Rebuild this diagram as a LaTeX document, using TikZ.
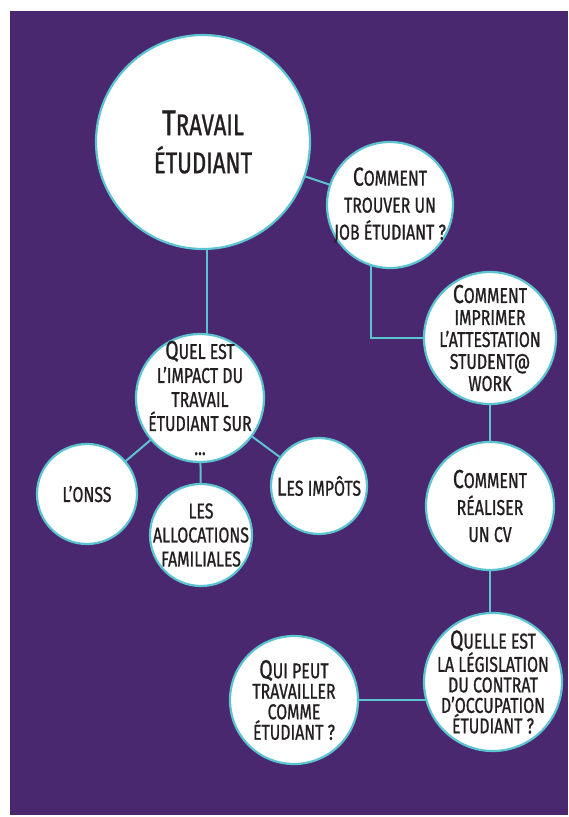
\documentclass[tikz,border=0pt]{standalone}
\usepackage{fontspec}
\setmainfont{Fira Sans}[FakeStretch=0.74,FakeBold=0.9]
\usetikzlibrary{backgrounds}
\definecolor{plum}{HTML}{4A2870}
\definecolor{aqua}{HTML}{5CC4D0}
\definecolor{ink}{HTML}{231F20}
% enlarged first letter for the small-caps look
\newcommand\Ini[1]{{\fontsize{26}{20}\selectfont #1}}
\newcommand\BigIni[1]{{\fontsize{36}{36}\selectfont #1}}
\begin{document}
\begin{tikzpicture}[x=1pt,y=-1pt,
  % the circle size is set by minimum size, not by its text
  bubble/.style={circle,draw=aqua,line width=2.2pt,fill=white,inner sep=-20pt,
    text=ink,align=center},
  pitch/.style={font=\fontsize{21.5}{#1}\selectfont},
  link/.style={draw=aqua,line width=2pt}]
\useasboundingbox (0,0) rectangle (569,817);
\begin{pgfonlayer}{background}
  \fill[white] (0,0) rectangle (569,817);
  \fill[plum] (10,11) rectangle (568,815);
\end{pgfonlayer}

% main topic
\node[bubble,minimum size=214pt,font=\fontsize{30}{38}\selectfont] (main) at (203,142)
  {\BigIni{T}RAVAIL\\ÉTUDIANT};

% right-hand chain
\node[bubble,minimum size=126pt,pitch=27] (job) at (390,205)
  {\Ini{C}OMMENT\\TROUVER UN\\JOB ÉTUDIANT ?};
\node[bubble,minimum size=132pt,pitch=22] (attest) at (490,338)
  {\Ini{C}OMMENT\\IMPRIMER\\L'ATTESTATION\\STUDENT@\\WORK};
\node[bubble,minimum size=128pt,pitch=27] (cv) at (490,506)
  {\Ini{C}OMMENT\\RÉALISER\\UN CV};
\node[bubble,minimum size=138pt,pitch=20.5] (law) at (493,682)
  {\Ini{Q}UELLE EST\\LA LÉGISLATION\\DU CONTRAT\\D'OCCUPATION\\ÉTUDIANT ?};
\node[bubble,minimum size=128pt,pitch=20.5] (who) at (294,700)
  {\Ini{Q}UI PEUT\\TRAVAILLER\\COMME\\ÉTUDIANT ?};

% left-hand branch
\node[bubble,minimum size=128pt,pitch=24] (impact) at (200,398)
  {\Ini{Q}UEL EST\\L'IMPACT DU\\TRAVAIL\\ÉTUDIANT SUR\\...};
\node[bubble,minimum size=100pt,pitch=24] (onss) at (87,494) {L'ONSS};
\node[bubble,minimum size=102pt,pitch=24] (alloc) at (201,535)
  {LES\\ALLOCATIONS\\FAMILIALES};
\node[bubble,minimum size=96pt,pitch=24] (tax) at (319,486) {\Ini{L}ES IMPÔTS};

% connectors, kept underneath the bubbles
\begin{pgfonlayer}{background}
  \draw[link] (main.center) -- (job.center);
  \draw[link] ([xshift=4pt]main.center) -- ([xshift=4pt]main.center |- impact.center);
  \draw[link] ([xshift=-19pt]job.center) |- (attest.center);
  \draw[link] (attest.center) -- (cv.center);
  \draw[link] (cv.center) -- (cv.center |- law.center);
  \draw[link] (who.center) -- (who.center -| law.center);
  \draw[link] (impact.center) -- (onss.center);
  \draw[link] (impact.center) -- (alloc.center);
  \draw[link] (impact.center) -- (tax.center);
\end{pgfonlayer}
\end{tikzpicture}
\end{document}
